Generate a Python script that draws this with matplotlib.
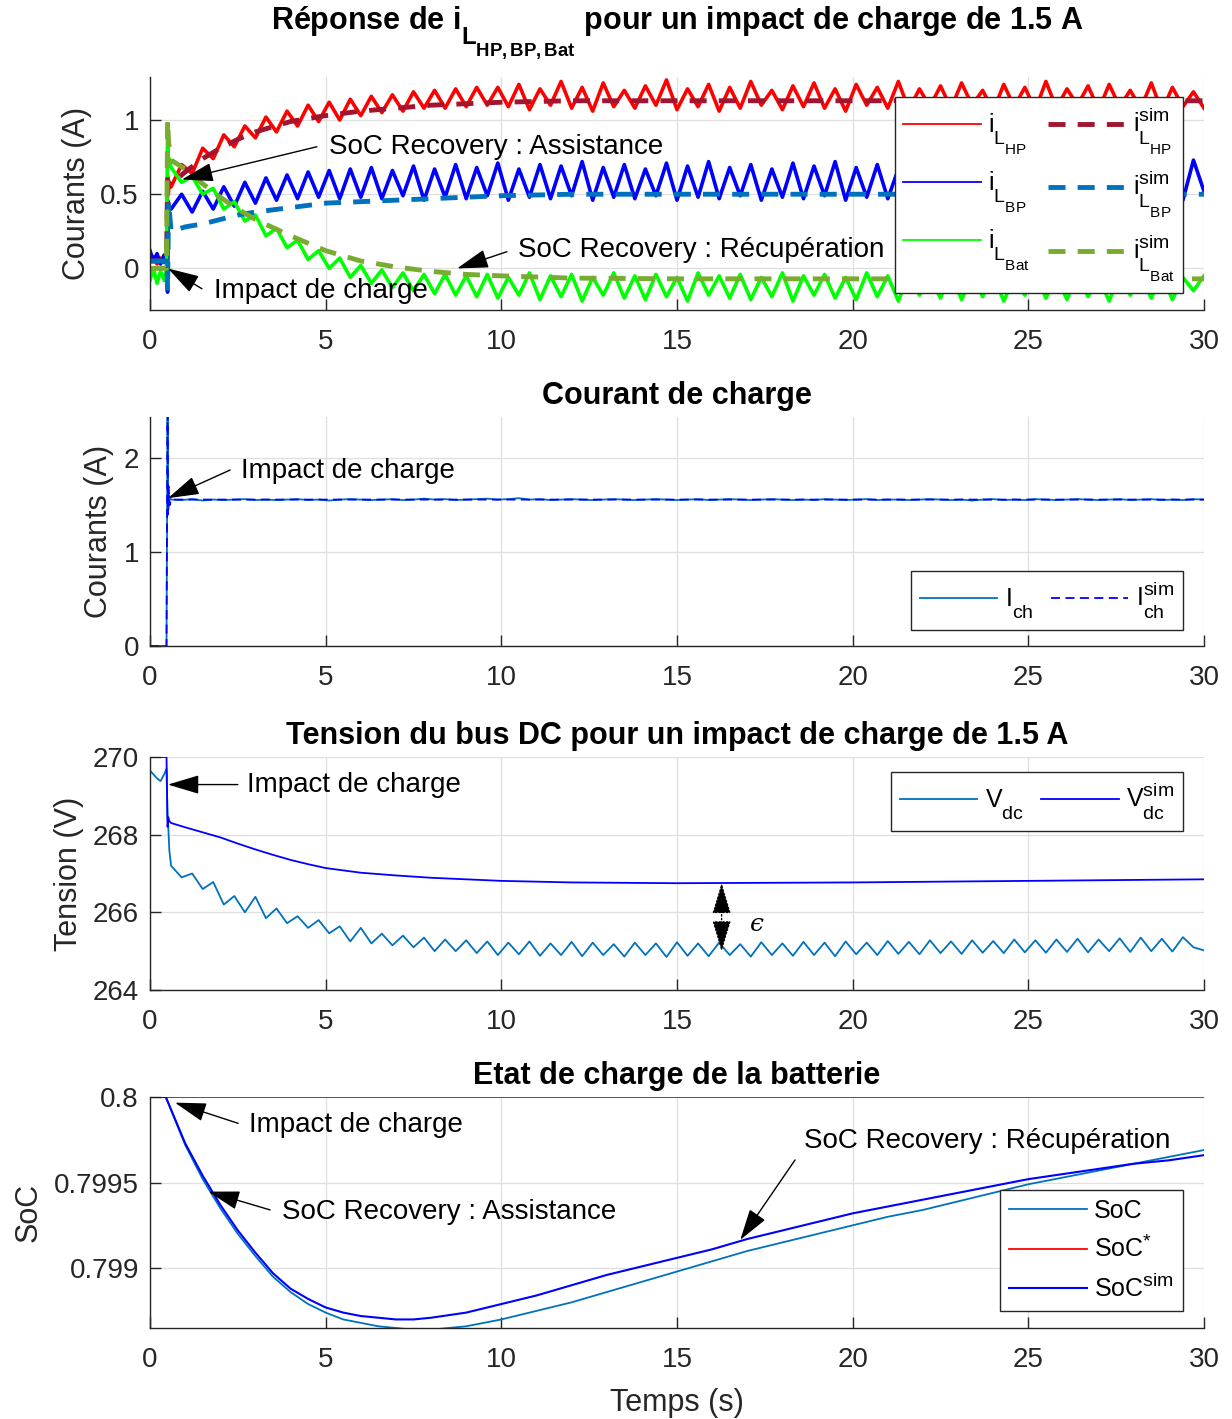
import numpy as np
import matplotlib
matplotlib.use("Agg")
import matplotlib.pyplot as plt
from matplotlib.ticker import FixedLocator, FixedFormatter
import matplotlib._mathtext as _mt

# MATLAB-like (larger, deeper) sub/superscripts
_mt.SHRINK_FACTOR = 0.78
_mt.FontConstantsBase.sub1 = 0.9
_mt.FontConstantsBase.sub2 = 0.9

plt.rcParams['font.family'] = ['Liberation Sans', 'DejaVu Sans']
plt.rcParams['mathtext.fontset'] = 'custom'
plt.rcParams['mathtext.rm'] = 'Liberation Sans'
plt.rcParams['mathtext.it'] = 'Liberation Sans:italic'
plt.rcParams['mathtext.bf'] = 'Liberation Sans:bold'

# ---------------- data ----------------
# measured time base: pre-impact samples + regular 0.3 s grid
t_pre = [0.0, 0.1, 0.2, 0.3, 0.4, 0.47, 0.5, 0.52, 0.55]
t_grid = np.round(np.arange(0.6, 30.001, 0.3), 2)

# Panel 1 : measured inductor currents
iHP_pre = [0.05, 0.08, 0.03, 0.07, 0.04, 0.06, 0.62, 0.50, 0.58]
iHP = [0.55, 0.70, 0.64, 0.81, 0.74, 0.90, 0.82, 0.96, 0.88, 1.02,
       0.92, 1.06, 0.96, 1.10, 0.99, 1.12, 1.00, 1.14, 1.03, 1.16,
       1.05, 1.17, 1.06, 1.19, 1.08, 1.20, 1.08, 1.21, 1.09, 1.22,
       1.10, 1.22, 1.09, 1.24, 1.07, 1.21, 1.10, 1.26, 1.08, 1.22,
       1.06, 1.25, 1.09, 1.20, 1.08, 1.23, 1.10, 1.27, 1.07, 1.21,
       1.09, 1.24, 1.06, 1.22, 1.08, 1.26, 1.10, 1.20, 1.07, 1.23,
       1.09, 1.25, 1.08, 1.21, 1.06, 1.24, 1.10, 1.22, 1.08, 1.26,
       1.07, 1.21, 1.09, 1.23, 1.08, 1.25, 1.10, 1.20, 1.06, 1.24,
       1.09, 1.22, 1.07, 1.26, 1.08, 1.21, 1.10, 1.23, 1.07, 1.24,
       1.09, 1.20, 1.08, 1.25, 1.06, 1.22, 1.09, 1.19, 1.08]
iBP_pre = [0.12, 0.05, 0.10, 0.03, 0.09, 0.05, -0.16, 0.45, 0.42]
iBP = [0.40, 0.50, 0.38, 0.52, 0.40, 0.55, 0.42, 0.58, 0.44, 0.61,
       0.46, 0.63, 0.47, 0.65, 0.48, 0.66, 0.47, 0.67, 0.48, 0.68,
       0.47, 0.66, 0.49, 0.69, 0.46, 0.67, 0.48, 0.70, 0.47, 0.68,
       0.49, 0.71, 0.46, 0.67, 0.48, 0.70, 0.47, 0.69, 0.49, 0.72,
       0.46, 0.68, 0.48, 0.70, 0.47, 0.67, 0.49, 0.71, 0.46, 0.69,
       0.48, 0.72, 0.47, 0.68, 0.49, 0.70, 0.46, 0.67, 0.48, 0.71,
       0.47, 0.69, 0.49, 0.72, 0.46, 0.68, 0.48, 0.70, 0.47, 0.67,
       0.49, 0.71, 0.46, 0.69, 0.48, 0.72, 0.47, 0.68, 0.49, 0.70,
       0.46, 0.67, 0.48, 0.71, 0.47, 0.69, 0.49, 0.72, 0.46, 0.68,
       0.48, 0.70, 0.47, 0.67, 0.49, 0.71, 0.46, 0.73, 0.52]
iBat_pre = [-0.08, 0.00, -0.10, -0.02, -0.08, 0.00, 0.95, 0.72, 0.74]
iBat = [0.68, 0.58, 0.62, 0.50, 0.54, 0.40, 0.45, 0.32, 0.36, 0.22,
        0.27, 0.14, 0.19, 0.06, 0.12, 0.00, 0.07, -0.06, 0.02, -0.10,
        -0.01, -0.13, -0.03, -0.15, -0.04, -0.17, -0.04, -0.18, -0.05, -0.19,
        -0.04, -0.20, -0.06, -0.18, -0.03, -0.21, -0.05, -0.19, -0.04, -0.22,
        -0.06, -0.18, -0.03, -0.20, -0.05, -0.21, -0.04, -0.19, -0.06, -0.22,
        -0.03, -0.18, -0.05, -0.20, -0.04, -0.21, -0.06, -0.19, -0.03, -0.22,
        -0.05, -0.18, -0.04, -0.20, -0.06, -0.21, -0.03, -0.19, -0.05, -0.22,
        -0.04, -0.18, -0.06, -0.20, -0.03, -0.21, -0.05, -0.19, -0.04, -0.22,
        -0.06, -0.18, -0.03, -0.20, -0.05, -0.21, -0.04, -0.19, -0.06, -0.22,
        -0.03, -0.18, -0.05, -0.20, -0.04, -0.21, -0.06, -0.15, -0.05]

# Panel 1 : simulated inductor currents
t_sim1 = [0, 0.47, 0.5, 0.53, 0.6, 1, 1.5, 2, 2.5, 3, 4, 5, 6, 7, 8, 9, 10, 12, 15, 20, 25, 30]
iHP_sim = [0.05, 0.05, 0.60, 0.57, 0.57, 0.65, 0.74, 0.81, 0.87, 0.92, 0.99, 1.03,
           1.06, 1.08, 1.10, 1.11, 1.12, 1.13, 1.13, 1.13, 1.13, 1.13]
iBP_sim = [0.05, 0.05, -0.15, 0.45, 0.25, 0.28, 0.30, 0.33, 0.36, 0.38, 0.41, 0.44,
           0.45, 0.46, 0.47, 0.48, 0.49, 0.50, 0.50, 0.50, 0.50, 0.50]
iBat_sim = [0.0, 0.0, 1.0, 0.85, 0.73, 0.67, 0.57, 0.48, 0.40, 0.33, 0.22, 0.12,
            0.05, 0.01, -0.02, -0.04, -0.05, -0.065, -0.07, -0.07, -0.07, -0.07]

# Panel 2 : load current
ich_pre = [0.0, 0.0, 0.0, 0.0, 0.0, 0.0, 2.6, 1.45, 1.60]
ich = [1.56, 1.555, 1.565, 1.55, 1.56, 1.555, 1.56, 1.565, 1.555, 1.56,
       1.555, 1.56, 1.565, 1.555, 1.56, 1.55, 1.56, 1.565, 1.56, 1.555,
       1.56, 1.565, 1.555, 1.56, 1.57, 1.56, 1.565, 1.555, 1.56, 1.565,
       1.57, 1.56, 1.565, 1.575, 1.56, 1.565, 1.555, 1.56, 1.565, 1.56,
       1.555, 1.56, 1.565, 1.56, 1.555, 1.56, 1.565, 1.56, 1.555, 1.56,
       1.565, 1.555, 1.56, 1.565, 1.56, 1.555, 1.56, 1.565, 1.56, 1.555,
       1.56, 1.555, 1.565, 1.56, 1.555, 1.56, 1.565, 1.555, 1.56, 1.56,
       1.555, 1.56, 1.565, 1.56, 1.555, 1.56, 1.55, 1.56, 1.565, 1.555,
       1.56, 1.555, 1.565, 1.56, 1.555, 1.56, 1.565, 1.56, 1.555, 1.56,
       1.565, 1.555, 1.56, 1.565, 1.555, 1.56, 1.555, 1.565, 1.56]
t_ich_sim = [0, 0.47, 0.5, 0.51, 0.53, 0.56, 0.6, 30]
ich_sim = [0.0, 0.0, 2.7, 1.4, 1.7, 1.5, 1.56, 1.56]

# Panel 3 : DC bus voltage
vdc_pre = [269.65, 269.55, 269.45, 269.38, 269.55, 269.70, 268.40, 268.20, 267.60]
vdc = [267.2, 266.9, 267.0, 266.6, 266.78, 266.2, 266.42, 266.0, 266.4, 265.85,
       266.1, 265.72, 265.9, 265.6, 265.8, 265.46, 265.64, 265.25, 265.6, 265.2,
       265.45, 265.15, 265.4, 265.1, 265.35, 265.0, 265.3, 265.0, 265.28, 264.95,
       265.25, 264.9, 265.22, 264.92, 265.25, 264.88, 265.2, 264.9, 265.24, 264.87,
       265.22, 264.9, 265.18, 264.86, 265.22, 264.9, 265.2, 264.85, 265.23, 264.88,
       265.2, 264.87, 265.22, 264.9, 265.18, 264.86, 265.23, 264.9, 265.2, 264.88,
       265.24, 264.9, 265.22, 264.87, 265.25, 264.92, 265.22, 264.9, 265.26, 264.93,
       265.24, 264.92, 265.28, 264.95, 265.25, 264.93, 265.28, 264.96, 265.26, 264.95,
       265.3, 264.97, 265.28, 264.96, 265.3, 264.98, 265.32, 264.97, 265.3, 265.0,
       265.33, 264.98, 265.35, 265.0, 265.32, 264.99, 265.36, 265.1, 265.02]
t_vsim = [0, 0.47, 0.5, 0.52, 0.55, 0.6, 1, 1.5, 2, 2.5, 3, 3.5, 4, 4.5, 5, 6, 7, 8,
          9, 10, 12, 15, 20, 25, 30]
vdc_sim = [270.0, 270.0, 268.2, 268.45, 268.35, 268.3, 268.19, 268.06, 267.93, 267.77,
           267.62, 267.48, 267.35, 267.24, 267.14, 267.02, 266.95, 266.89, 266.85,
           266.81, 266.77, 266.75, 266.77, 266.81, 266.85]

# Panel 4 : state of charge
t_soc = [0, 0.45, 1, 1.5, 2, 2.5, 3, 3.5, 4, 4.5, 5, 5.5, 6, 6.5, 7, 7.5,
         8, 9, 10, 11, 12, 13, 14, 15, 16, 17, 18, 19, 20, 21, 22, 23, 24, 25,
         26, 27, 28, 29, 30]
soc_meas = [0.8, 0.8, 0.79972, 0.79952, 0.79935, 0.7992, 0.79907, 0.79895, 0.79886,
            0.79879, 0.79874, 0.7987, 0.79868, 0.79866, 0.79865, 0.79864,
            0.79864, 0.79866, 0.7987, 0.79875, 0.7988, 0.79886, 0.79892, 0.79898,
            0.79904, 0.7991, 0.79915, 0.7992, 0.79925, 0.7993, 0.79934, 0.79939,
            0.79944, 0.79949, 0.79953, 0.79957, 0.79961, 0.79965, 0.79969]
soc_sim = [0.8, 0.8, 0.79973, 0.79954, 0.79937, 0.79922, 0.79909, 0.79897, 0.79888,
           0.79882, 0.79877, 0.79874, 0.79872, 0.79871, 0.7987, 0.7987,
           0.79871, 0.79874, 0.79879, 0.79884, 0.7989, 0.79896, 0.79901, 0.79906,
           0.79911, 0.79917, 0.79922, 0.79927, 0.79932, 0.79936, 0.7994, 0.79944,
           0.79948, 0.79952, 0.79955, 0.79958, 0.79961, 0.79963, 0.79966]
t_socref = [0, 30]
soc_ref = [0.8, 0.8]

x_ticks = [0, 5, 10, 15, 20, 25, 30]

# ---------------- figure ----------------
W, H = 1232, 1419
fig = plt.figure(figsize=(W / 100, H / 100), dpi=100)

def add_ax(top, bottom, left=150, right=1204):
    return fig.add_axes([left / W, 1 - bottom / H, (right - left) / W, (bottom - top) / H])

DARK = '#262626'

def style(ax, ylim, yticks, ylabels):
    ax.set_xlim(0, 30)
    ax.set_ylim(*ylim)
    ax.xaxis.set_major_locator(FixedLocator(x_ticks))
    ax.yaxis.set_major_locator(FixedLocator(yticks))
    ax.yaxis.set_major_formatter(FixedFormatter(ylabels))
    ax.grid(True, color='#DFDFDF', lw=0.9)
    ax.set_axisbelow(True)
    for s in ['top', 'right']:
        ax.spines[s].set_visible(False)
    for s in ['left', 'bottom']:
        ax.spines[s].set_color(DARK)
        ax.spines[s].set_linewidth(1.0)
    ax.tick_params(direction='in', length=8, width=1.0, colors=DARK,
                   labelsize=20, pad=8, top=False, right=False)
    ax.tick_params(axis='x', pad=13.5)

def leg(ax, handles, labels, ncol, loc, anchor, **kw):
    lg = ax.legend(handles, labels, ncol=ncol, loc=loc, bbox_to_anchor=anchor,
                   borderaxespad=0, fontsize=18, fancybox=False, framealpha=1,
                   edgecolor=DARK, handlelength=3.1, handletextpad=0.3,
                   columnspacing=0.7, borderpad=0.35, **kw)
    lg.get_frame().set_linewidth(1.0)
    return lg

def arrow(ax, head, tail):
    ax.annotate('', xy=head, xytext=tail,
                arrowprops=dict(arrowstyle='-|>,head_length=1.4,head_width=0.42',
                                color='k', lw=1.0, mutation_scale=14,
                                shrinkA=0, shrinkB=0))

t_meas = np.concatenate([t_pre, t_grid])

# ---- Panel 1 ----
ax1 = add_ax(77, 310)
h1, = ax1.plot(t_meas, iHP_pre + iHP, color='#FF0000', lw=2.6)
h2, = ax1.plot(t_meas, iBP_pre + iBP, color='#0000FF', lw=2.6)
h3, = ax1.plot(t_meas, iBat_pre + iBat, color='#00FF00', lw=2.6)
h4, = ax1.plot(t_sim1, iHP_sim, color='#A2142F', lw=3.5, dashes=(3.5, 2.5))
h5, = ax1.plot(t_sim1, iBP_sim, color='#0072BD', lw=3.5, dashes=(3.5, 2.5))
h6, = ax1.plot(t_sim1, iBat_sim, color='#77AC30', lw=3.5, dashes=(3.5, 2.5))
style(ax1, (-0.28, 1.29), [0, 0.5, 1], ['0', '0.5', '1'])
ax1.set_ylabel('Courants (A)', fontsize=22, color=DARK)
ax1.yaxis.set_label_coords(-0.055, 0.5)
ax1.set_title(r'Réponse de $\mathbf{i_{L_{HP,BP,Bat}}}$ pour un impact de charge de 1.5 A',
              fontsize=22, fontweight='bold', pad=34)
lg1 = leg(ax1, [h1, h2, h3, h4, h5, h6],
          [r'$\mathrm{i_{L_{HP}}}$', r'$\mathrm{i_{L_{BP}}}$', r'$\mathrm{i_{L_{Bat}}}$',
           r'$\mathrm{i^{sim}_{L_{HP}}}$', r'$\mathrm{i^{sim}_{L_{BP}}}$', r'$\mathrm{i^{sim}_{L_{Bat}}}$'],
          2, 'upper right', (0.980, 0.914), labelspacing=0.5)
for ln in lg1.get_lines()[:3]:
    ln.set_linewidth(1.3)
ax1.text(5.1, 0.815, 'SoC Recovery : Assistance', fontsize=20, va='center', ha='left')
arrow(ax1, (0.91, 0.60), (4.75, 0.82))
ax1.text(10.48, 0.126, 'SoC Recovery : Récupération', fontsize=20, va='center', ha='left')
arrow(ax1, (8.74, 0.0), (10.16, 0.113))
ax1.text(1.82, -0.15, 'Impact de charge', fontsize=20, va='center', ha='left')
arrow(ax1, (0.51, 0.0), (1.48, -0.137))

# ---- Panel 2 ----
ax2 = add_ax(417, 646)
g1, = ax2.plot(t_meas, ich_pre + ich, color='#0072BD', lw=1.3)
g2, = ax2.plot(t_ich_sim, ich_sim, color='#0000FF', lw=1.3, dashes=(5, 3))
style(ax2, (0, 2.44), [0, 1, 2], ['0', '1', '2'])
ax2.set_ylabel('Courants (A)', fontsize=22, color=DARK)
ax2.yaxis.set_label_coords(-0.034, 0.5)
ax2.set_title('Courant de charge', fontsize=22, fontweight='bold', pad=9.5)
leg(ax2, [g1, g2], [r'$\mathrm{I_{ch}}$', r'$\mathrm{I^{sim}_{ch}}$'], 2,
    'lower right', (0.980, 0.070))
ax2.text(2.59, 1.86, 'Impact de charge', fontsize=20, va='center', ha='left')
arrow(ax2, (0.51, 1.575), (2.28, 1.875))

# ---- Panel 3 ----
ax3 = add_ax(757, 990)
k1, = ax3.plot(t_meas, vdc_pre + vdc, color='#0072BD', lw=1.3)
k2, = ax3.plot(t_vsim, vdc_sim, color='#0000FF', lw=1.3)
style(ax3, (264, 270), [264, 266, 268, 270], ['264', '266', '268', '270'])
ax3.set_ylabel('Tension (V)', fontsize=22, color=DARK)
ax3.yaxis.set_label_coords(-0.063, 0.5)
ax3.set_title('Tension du bus DC pour un impact de charge de 1.5 A', fontsize=22,
              fontweight='bold', pad=9.5)
leg(ax3, [k1, k2], [r'$\mathrm{V_{dc}}$', r'$\mathrm{V^{sim}_{dc}}$'], 2,
    'upper right', (0.980, 0.936))
ax3.text(2.76, 269.29, 'Impact de charge', fontsize=20, va='center', ha='left')
arrow(ax3, (0.51, 269.29), (2.5, 269.29))
ax3.annotate('', xy=(16.27, 266.76), xytext=(16.27, 264.99),
             arrowprops=dict(arrowstyle='<|-|>,head_length=1.4,head_width=0.42',
                             color='k', lw=1.0, ls=':', mutation_scale=14,
                             shrinkA=0, shrinkB=0))
ax3.text(17.27, 265.68, '\u03f5', fontsize=18, va='center', ha='center',
         family=['DejaVu Serif', 'DejaVu Sans'], style='italic')

# ---- Panel 4 ----
ax4 = add_ax(1097, 1328)
m1, = ax4.plot(t_soc, soc_meas, color='#0072BD', lw=1.3)
m2, = ax4.plot(t_socref, soc_ref, color='#FF0000', lw=1.3)
m3, = ax4.plot(t_soc, soc_sim, color='#0000FF', lw=1.5)
style(ax4, (0.79865, 0.8), [0.799, 0.7995, 0.8], ['0.799', '0.7995', '0.8'])
ax4.set_ylabel('SoC', fontsize=22, color=DARK)
ax4.yaxis.set_label_coords(-0.101, 0.5)
ax4.set_xlabel('Temps (s)', fontsize=22, color=DARK, labelpad=11)
ax4.set_title('Etat de charge de la batterie', fontsize=22, fontweight='bold', pad=9.5)
leg(ax4, [m1, m2, m3], ['SoC', r'SoC$^{*}$', r'SoC$^{\mathrm{sim}}$'], 1,
    'lower right', (0.980, 0.074), labelspacing=0.45)
ax4.text(2.82, 0.799836, 'Impact de charge', fontsize=20, va='center', ha='left')
arrow(ax4, (0.71, 0.799967), (2.51, 0.799846))
ax4.text(3.76, 0.799328, 'SoC Recovery : Assistance', fontsize=20, va='center', ha='left')
arrow(ax4, (1.66, 0.799447), (3.42, 0.79934))
ax4.text(18.62, 0.799743, 'SoC Recovery : Récupération', fontsize=20, va='center', ha='left')
arrow(ax4, (16.8, 0.799165), (18.36, 0.799632))

fig.savefig('out.png', dpi=100)
